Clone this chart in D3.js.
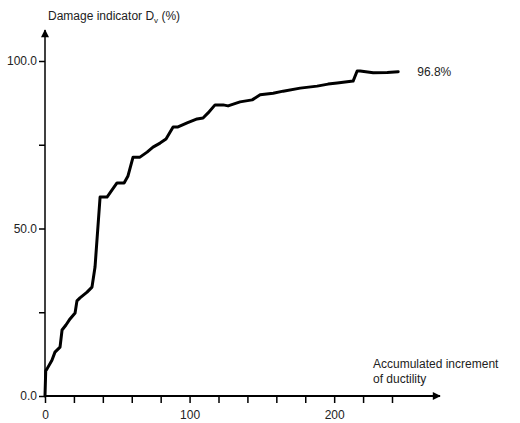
<!DOCTYPE html>
<html>
<head>
<meta charset="utf-8">
<script src="https://cdn.jsdelivr.net/npm/d3@7"></script>
<style>
	body { margin: 0; background: #fff; }
	text { font-family: "Liberation Sans", Arial, sans-serif; fill: #222; }
</style>
</head>
<body>
<div id="chart"></div>
<script>
// ductility increment vs damage indicator
const ductility = [0, 0.5, 1.4, 4.8, 6.9, 10.4, 11.8, 14.5, 17.3, 20.8, 22.1, 24.2, 29.1, 32.5, 34.6, 38.1,
	42.9, 46.4, 49.8, 54.7, 57.4, 60.9, 65.7, 70.6, 74.7, 79.6, 83.7, 88.6, 92.0, 98.3, 105.2,
	109.3, 112.8, 117.6, 123.2, 126.6, 134.9, 143.3, 148.8, 157.8, 164.7, 176.5, 188.2, 195.8,
	202.1, 213.1, 215.9, 218, 227, 236.7, 244.3];
const damage = [0, 7.5, 8.1, 10.7, 13.1, 14.6, 19.7, 21.2, 23.0, 24.8, 28.4, 29.3, 31.0, 32.5, 38.5, 59.4,
	59.4, 61.5, 63.6, 63.6, 65.7, 71.3, 71.3, 72.8, 74.3, 75.5, 76.7, 80.3, 80.3, 81.5, 82.7,
	83.0, 84.5, 86.9, 86.9, 86.6, 87.8, 88.4, 89.9, 90.4, 91.0, 91.9, 92.5, 93.1,
	93.4, 94.0, 97.0, 97.0, 96.5, 96.6, 96.8];
const xTicks = [0, 20, 40, 60, 80, 100, 120, 140, 160, 180, 200, 220, 240];
const xLabels = [0, 100, 200];
const yTicks = [0, 25, 50, 75, 100];
const yLabels = [0, 50, 100];
const endLabel = "96.8%";

const width = 520;
const height = 423;

const svg = d3.select("#chart")
	.append("svg")
	.attr("width", width)
	.attr("height", height);

const x = d3.scaleLinear().domain([0, 240]).range([45, 392]);
const y = d3.scaleLinear().domain([0, 100]).range([396, 61]);

// arrow heads
const defs = svg.append("defs");
defs.append("marker")
	.attr("id", "arrow")
	.attr("viewBox", "0 0 10 10")
	.attr("refX", 9)
	.attr("refY", 5)
	.attr("markerWidth", 10)
	.attr("markerHeight", 8)
	.attr("markerUnits", "userSpaceOnUse")
	.attr("orient", "auto")
	.append("path")
	.attr("d", "M0,0L10,5L0,10z")
	.attr("fill", "#000");

// axis lines with arrows
svg.append("line")
	.attr("x1", x(0)).attr("y1", y(0) + 1)
	.attr("x2", x(0)).attr("y2", 30)
	.attr("stroke", "#000")
	.attr("stroke-width", 1.5)
	.attr("marker-end", "url(#arrow)");

svg.append("line")
	.attr("x1", x(0)).attr("y1", y(0))
	.attr("x2", 440).attr("y2", y(0))
	.attr("stroke", "#000")
	.attr("stroke-width", 2)
	.attr("marker-end", "url(#arrow)");

const yAxis = d3.axisLeft(y)
	.tickValues(yTicks)
	.tickSize(6)
	.tickSizeOuter(0)
	.tickPadding(2)
	.tickFormat((d) => yLabels.includes(d) ? d3.format(".1f")(d) : "");

const gy = svg.append("g")
	.attr("transform", `translate(${x(0)},0)`)
	.call(yAxis);
gy.select(".domain").remove();
gy.selectAll(".tick line").attr("stroke", "#000").attr("stroke-width", 1.5);
gy.selectAll(".tick text")
	.style("font-size", "12px")
	.style("font-family", "'Liberation Sans', Arial, sans-serif")
	.attr("fill", "#222");

const xAxis = d3.axisBottom(x)
	.tickValues(xTicks)
	.tickSize(7)
	.tickSizeOuter(0)
	.tickPadding(7)
	.tickFormat((d) => xLabels.includes(d) ? d : "");

const gx = svg.append("g")
	.attr("transform", `translate(0,${y(0)})`)
	.call(xAxis);
gx.select(".domain").remove();
gx.selectAll(".tick line").attr("stroke", "#000").attr("stroke-width", 1.5);
gx.selectAll(".tick text")
	.style("font-size", "12px")
	.style("font-family", "'Liberation Sans', Arial, sans-serif")
	.attr("fill", "#222");

// damage curve
const points = ductility.map((d, i) => [d, damage[i]]);
const line = d3.line()
	.x((d) => x(d[0]))
	.y((d) => y(d[1]));

svg.append("path")
	.datum(points)
	.attr("d", line)
	.attr("fill", "none")
	.attr("stroke", "#000")
	.attr("stroke-width", 3)
	.attr("stroke-linejoin", "round")
	.attr("stroke-linecap", "round");

// labels
const ylab = svg.append("text")
	.attr("x", 48)
	.attr("y", 20)
	.style("font-size", "12px");
ylab.append("tspan").text("Damage indicator D");
ylab.append("tspan").attr("dy", 3).style("font-size", "8px").text("v");
ylab.append("tspan").attr("dy", -3).text(" (%)");

svg.append("text")
	.attr("x", 373)
	.attr("y", 368)
	.style("font-size", "12px")
	.text("Accumulated increment");
svg.append("text")
	.attr("x", 373)
	.attr("y", 383)
	.style("font-size", "12px")
	.text("of ductility");

const last = points[points.length - 1];
svg.append("text")
	.attr("x", x(last[0]) + 19)
	.attr("y", y(last[1]) + 4)
	.style("font-size", "12px")
	.text(endLabel);
</script>
</body>
</html>
